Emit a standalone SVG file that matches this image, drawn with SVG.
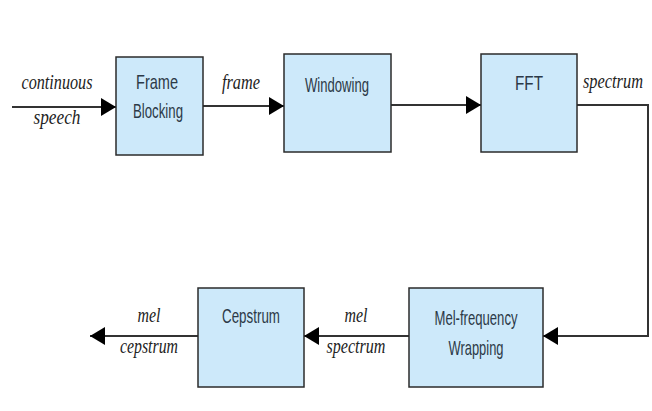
<svg xmlns="http://www.w3.org/2000/svg" width="652" height="411" viewBox="0 0 652 411">
<style>
.box{fill:#cde9fa;stroke:#2b2b2b;stroke-width:1.5}
.lbl{font-family:"Liberation Sans",Arial,sans-serif;font-size:21px;fill:#2c3947;text-anchor:middle}
.it{font-family:"Liberation Serif","Times New Roman",serif;font-style:italic;font-size:20px;fill:#222;text-anchor:middle}
.ln{fill:none;stroke:#333;stroke-width:2}
</style>
<defs>
<marker id="ah" markerUnits="userSpaceOnUse" markerWidth="16" markerHeight="18" refX="15" refY="9" orient="auto">
<path d="M0,0 L15,9 L0,18 Z" fill="#000"/>
</marker>
</defs>
<rect width="652" height="411" fill="#fff"/>
<g id="connectors">
<line class="ln" x1="12" y1="107" x2="116" y2="107" marker-end="url(#ah)"/>
<line class="ln" x1="203" y1="106" x2="284" y2="106" marker-end="url(#ah)"/>
<line class="ln" x1="391" y1="105" x2="481" y2="105" marker-end="url(#ah)"/>
<polyline class="ln" points="577,105 648,105 648,336 543,336" marker-end="url(#ah)"/>
<line class="ln" x1="409" y1="336" x2="304" y2="336" marker-end="url(#ah)"/>
<line class="ln" x1="198" y1="336" x2="90" y2="336" marker-end="url(#ah)"/>
<text class="it" x="57" y="89" textLength="71" lengthAdjust="spacingAndGlyphs">continuous</text>
<text class="it" x="57" y="124" textLength="47" lengthAdjust="spacingAndGlyphs">speech</text>
<text class="it" x="241" y="89" textLength="38" lengthAdjust="spacingAndGlyphs">frame</text>
<text class="it" x="613" y="88" textLength="60" lengthAdjust="spacingAndGlyphs">spectrum</text>
<text class="it" x="356" y="322" textLength="23" lengthAdjust="spacingAndGlyphs">mel</text>
<text class="it" x="356" y="353" textLength="59" lengthAdjust="spacingAndGlyphs">spectrum</text>
<text class="it" x="149" y="322" textLength="23" lengthAdjust="spacingAndGlyphs">mel</text>
<text class="it" x="149" y="353" textLength="58" lengthAdjust="spacingAndGlyphs">cepstrum</text>
</g>
<g id="frame-blocking">
<rect class="box" x="116" y="57" width="87" height="98"/>
<text class="lbl" x="157" y="89" textLength="42" lengthAdjust="spacingAndGlyphs">Frame</text>
<text class="lbl" x="158" y="118" textLength="50" lengthAdjust="spacingAndGlyphs">Blocking</text>
</g>
<g id="windowing">
<rect class="box" x="284" y="54" width="107" height="98"/>
<text class="lbl" x="337" y="92" textLength="64" lengthAdjust="spacingAndGlyphs">Windowing</text>
</g>
<g id="fft">
<rect class="box" x="481" y="54" width="96" height="98"/>
<text class="lbl" x="529" y="90" textLength="28" lengthAdjust="spacingAndGlyphs">FFT</text>
</g>
<g id="mel-frequency-wrapping">
<rect class="box" x="409" y="288" width="134" height="99"/>
<text class="lbl" x="476" y="325" textLength="83" lengthAdjust="spacingAndGlyphs">Mel-frequency</text>
<text class="lbl" x="476" y="355" textLength="55" lengthAdjust="spacingAndGlyphs">Wrapping</text>
</g>
<g id="cepstrum">
<rect class="box" x="198" y="288" width="106" height="99"/>
<text class="lbl" x="251" y="323" textLength="58" lengthAdjust="spacingAndGlyphs">Cepstrum</text>
</g>
</svg>
